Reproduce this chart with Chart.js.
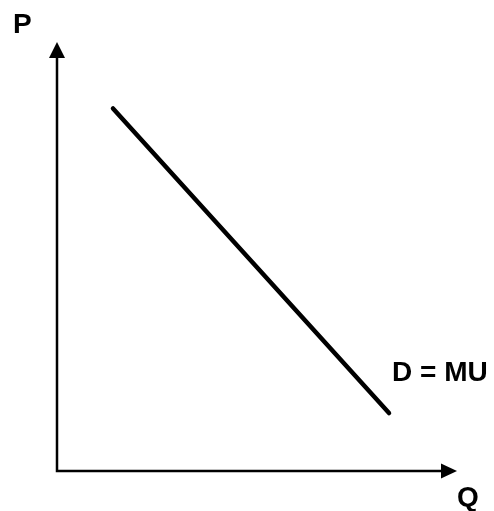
<!DOCTYPE html>
<html>
<head>
<meta charset="utf-8">
<script src="https://cdn.jsdelivr.net/npm/chart.js@4"></script>
<style>
  html, body { margin: 0; padding: 0; background: #fff; }
  #wrap { width: 494px; height: 511px; position: relative; }
</style>
</head>
<body>
<div id="wrap"><canvas id="demandChart"></canvas></div>
<script>
// demand curve endpoints (Q, P) in axis units
const demandQ = [1.4, 8.3];
const demandP = [8.45, 1.35];
const curveLabel = 'D = MU';
const xAxisLabel = 'Q';
const yAxisLabel = 'P';
const xAxisMax = 10;
const yAxisMax = 10;

// axes with arrowheads and the text labels
const axisArrows = {
    id: 'axisArrows',
    afterDatasetsDraw(chart) {
        const ctx = chart.ctx;
        const x = chart.scales.x, y = chart.scales.y;
        const x0 = x.getPixelForValue(0), x1 = x.getPixelForValue(xAxisMax);
        const y0 = y.getPixelForValue(0), y1 = y.getPixelForValue(yAxisMax);
        ctx.save();
        ctx.strokeStyle = '#000';
        ctx.fillStyle = '#000';
        ctx.lineWidth = 2.5;
        ctx.beginPath();
        ctx.moveTo(x0, y1 + 10);
        ctx.lineTo(x0, y0);
        ctx.lineTo(x1 - 10, y0);
        ctx.stroke();
        // up arrow
        ctx.beginPath();
        ctx.moveTo(x0, y1);
        ctx.lineTo(x0 - 8, y1 + 16);
        ctx.lineTo(x0 + 8, y1 + 16);
        ctx.closePath();
        ctx.fill();
        // right arrow
        ctx.beginPath();
        ctx.moveTo(x1, y0);
        ctx.lineTo(x1 - 16, y0 - 7.5);
        ctx.lineTo(x1 - 16, y0 + 7.5);
        ctx.closePath();
        ctx.fill();

        ctx.font = 'bold 28px "Liberation Sans", Arial, sans-serif';
        ctx.textBaseline = 'alphabetic';
        ctx.textAlign = 'left';
        ctx.fillText(yAxisLabel, x0 - 44, y1 - 9);
        ctx.fillText(xAxisLabel, x1 + 0, y0 + 35);
        const ex = x.getPixelForValue(demandQ[1]);
        const ey = y.getPixelForValue(demandP[1]);
        ctx.fillText(curveLabel, ex + 3, ey - 32);
        ctx.restore();
    }
};

new Chart(document.getElementById('demandChart'), {
    type: 'scatter',
    data: {
        datasets: [{
            label: curveLabel,
            data: demandQ.map((q, i) => ({ x: q, y: demandP[i] })),
            showLine: true,
            borderColor: '#000',
            borderWidth: 4.5,
            borderCapStyle: 'round',
            pointRadius: 0,
            fill: false
        }]
    },
    options: {
        responsive: true,
        maintainAspectRatio: false,
        animation: false,
        layout: { padding: { left: 57, top: 42, right: 37, bottom: 40 } },
        scales: {
            x: { type: 'linear', min: 0, max: xAxisMax, display: false },
            y: { type: 'linear', min: 0, max: yAxisMax, display: false }
        },
        plugins: {
            legend: { display: false },
            tooltip: { enabled: false }
        }
    },
    plugins: [axisArrows]
});
</script>
</body>
</html>
